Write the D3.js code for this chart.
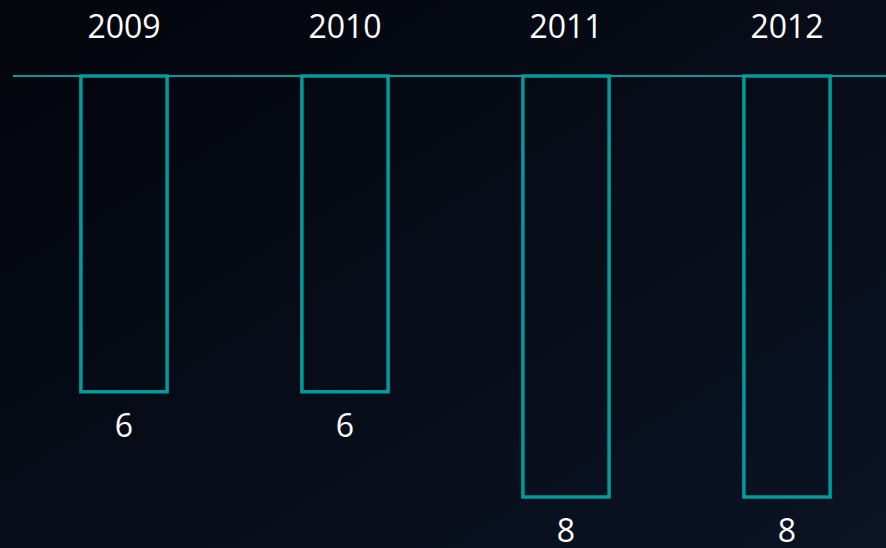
<!DOCTYPE html>
<html>
<head>
<meta charset="utf-8">
<script src="https://cdn.jsdelivr.net/npm/d3@7"></script>
<style>
  html, body { margin: 0; padding: 0; background: #05080f; }
  svg { display: block; }
  text { font-family: "Open Sans", Lato, sans-serif; fill: #ffffff; }
</style>
</head>
<body>
<svg id="chart" width="886" height="548"></svg>
<script>
// chart data
var years = ["2009", "2010", "2011", "2012"];
var values = [6, 6, 8, 8];

var W = 886, H = 548;
var teal = "#009b9b";

var svg = d3.select("#chart");

// background gradient
var defs = svg.append("defs");
var grad = defs.append("linearGradient")
    .attr("id", "bg").attr("x1", "0").attr("y1", "0").attr("x2", "1").attr("y2", "1");
grad.append("stop").attr("offset", "0%").attr("stop-color", "#03050c");
grad.append("stop").attr("offset", "100%").attr("stop-color", "#0b1324");
svg.append("rect").attr("width", W).attr("height", H).attr("fill", "url(#bg)");

var axisY = 76;

var x = d3.scaleBand()
    .domain(years)
    .range([13.5, 897.5])
    .paddingInner(0.61)
    .paddingOuter(0.305);

var y = d3.scaleLinear()
    .domain([0, 8])
    .range([axisY, 497]);

// bars hanging down from the axis
svg.selectAll("rect.bar")
    .data(values).enter().append("rect")
    .attr("class", "bar")
    .attr("x", (d, i) => x(years[i]))
    .attr("y", axisY)
    .attr("width", x.bandwidth())
    .attr("height", (d) => y(d) - axisY)
    .attr("fill", "none")
    .attr("stroke", teal)
    .attr("stroke-width", 3.5);

// axis line
svg.append("line")
    .attr("x1", 13).attr("x2", W)
    .attr("y1", axisY).attr("y2", axisY)
    .attr("stroke", teal).attr("stroke-width", 2);

// category labels
svg.selectAll("text.year")
    .data(years).enter().append("text")
    .attr("class", "year")
    .attr("x", (d) => x(d) + x.bandwidth() / 2)
    .attr("y", 38)
    .attr("text-anchor", "middle")
    .style("font-size", "32px")
    .text((d) => d);

// value labels
svg.selectAll("text.val")
    .data(values).enter().append("text")
    .attr("class", "val")
    .attr("x", (d, i) => x(years[i]) + x.bandwidth() / 2)
    .attr("y", (d) => y(d) + 45)
    .attr("text-anchor", "middle")
    .style("font-size", "32px")
    .text((d) => d);
</script>
</body>
</html>
